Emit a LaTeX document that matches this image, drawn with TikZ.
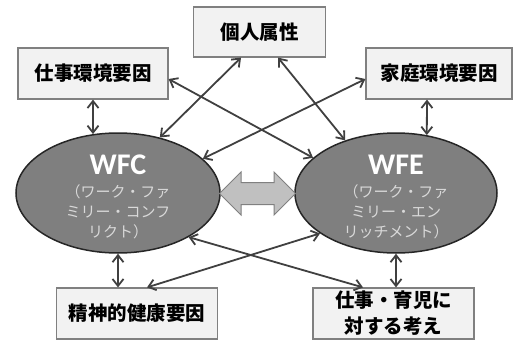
\documentclass[tikz,border=0pt]{standalone}
\usepackage{fontspec}
\newfontfamily\jp{Noto Sans CJK JP}
\newfontfamily\lat{Carlito}
\usetikzlibrary{arrows.meta,shapes.geometric}
\definecolor{boxfill}{HTML}{F2F2F2}
\definecolor{boxline}{HTML}{808080}
\definecolor{ovalfill}{HTML}{7F7F7F}
\definecolor{ovalline}{HTML}{262626}
\definecolor{linkc}{HTML}{404040}
\definecolor{subtext}{HTML}{D9D9D9}
\definecolor{bigarrowfill}{HTML}{C0C0C0}
\definecolor{bigarrowline}{HTML}{808080}
\begin{document}
\begin{tikzpicture}[x=1pt,y=-1pt,
  box/.style={draw=boxline, line width=1.2pt, fill=boxfill, inner sep=0pt, align=center,
    font=\jp\bfseries\fontsize{19.5}{26}\selectfont},
  oval/.style={ellipse, draw=ovalline, line width=1.5pt, fill=ovalfill, inner sep=0pt,
    minimum width=204pt, minimum height=120pt},
  title/.style={font=\lat\bfseries\fontsize{30}{30}\selectfont, text=white},
  sub/.style={font=\jp\fontsize{15}{20}\selectfont, text=subtext, align=center},
  link/.style={draw=linkc, line width=1.8pt,
    {Straight Barb[length=7pt,width=11pt]}-{Straight Barb[length=7pt,width=11pt]}},
]
\useasboundingbox (0,0) rectangle (517,340);
\fill[white] (0,0) rectangle (517,340);

% boxes
\node[box, minimum width=132pt, minimum height=50pt] (kojin) at (259.5,32) {個人属性};
\node[box, minimum width=150pt, minimum height=51pt] (shigoto) at (93,73.5) {仕事環境要因};
\node[box, minimum width=146pt, minimum height=51pt] (katei) at (439,73.5) {家庭環境要因};
\node[box, minimum width=161pt, minimum height=51pt] (seishin) at (137,313.5) {精神的健康要因};
\node[box, minimum width=161pt, minimum height=51pt] (kangae) at (393.5,313.5) {仕事・育児に\\対する考え};

% ellipses
\node[oval] (wfc) at (118,193) {};
\node[oval, minimum width=202pt] (wfe) at (396,193) {};

\node[title] (wfct) at ([yshift=28pt]wfc.center) {WFC};
\node[sub] (wfcs) at ([yshift=-19pt]wfc.center) {（ワーク・ファ\\ミリー・コンフ\\リクト）};
\node[title] (wfet) at ([yshift=28pt]wfe.center) {WFE};
\node[sub] (wfes) at ([yshift=-19pt]wfe.center) {（ワーク・ファ\\ミリー・エン\\リッチメント）};

% central double arrow
\draw[fill=bigarrowfill, draw=bigarrowline, line width=1pt, line join=miter]
  (219.5,193.5) -- (241,172) -- (241,182.5) -- (274,182.5) -- (274,172) -- (295.5,193.5)
  -- (274,215) -- (274,204.5) -- (241,204.5) -- (241,215) -- cycle;

% connectors
\draw[link] (shigoto.south) -- (wfc.113);
\draw[link] ([xshift=-12pt]katei.south) -- (wfe.62);
\draw[link] ([xshift=-18.5pt]kojin.south) -- (wfc.53);
\draw[link] ([xshift=18.5pt]kojin.south) -- (wfe.134);
\draw[link] ([yshift=-5.5pt]shigoto.east) -- (wfe.157);
\draw[link] ([yshift=-5.5pt]katei.west) -- (wfc.22.5);
\draw[link] (wfc.-32.5) -- ([xshift=-30.5pt]kangae.north);
\draw[link] (wfe.208) -- ([xshift=10pt]seishin.north);
\draw[link] (wfc.south) -- (wfc.south |- seishin.north);
\draw[link] (wfe.south) -- (wfe.south |- kangae.north);
\end{tikzpicture}
\end{document}
